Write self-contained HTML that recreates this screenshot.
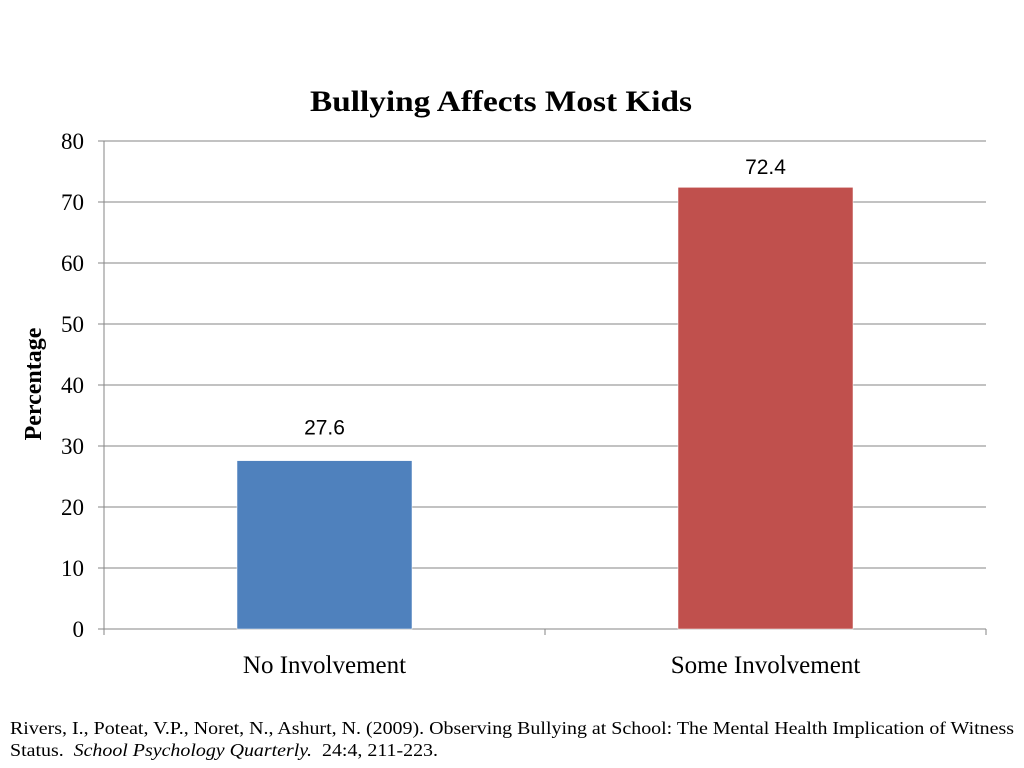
<!DOCTYPE html>
<html><head><meta charset="utf-8">
<style>
body{margin:0;width:1024px;height:768px;background:#fff;overflow:hidden;}
svg{display:block}
.serif{font-family:"Liberation Serif",serif;}
.sans{font-family:"Liberation Sans",sans-serif;}
</style></head>
<body>
<svg id="chart" width="1024" height="768">
<text class="serif" x="310" y="111" font-size="30" font-weight="bold" textLength="382" lengthAdjust="spacingAndGlyphs">Bullying Affects Most Kids</text>
<text class="serif" transform="translate(41,384) rotate(-90)" font-size="24" font-weight="bold" text-anchor="middle">Percentage</text>
<g id="grid"></g><g id="bars"></g>
<text class="serif" x="10" y="734" font-size="18" textLength="1004" lengthAdjust="spacingAndGlyphs">Rivers, I., Poteat, V.P., Noret, N., Ashurt, N. (2009). Observing Bullying at School: The Mental Health Implication of Witness</text>
<text class="serif" x="10" y="756" font-size="18" xml:space="preserve" textLength="428" lengthAdjust="spacingAndGlyphs">Status.  <tspan font-style="italic">School Psychology Quarterly.</tspan>  24:4, 211-223.</text>
</svg>
<script>
const categories=["No Involvement","Some Involvement"];
const values=[27.6,72.4];
const colors=["#4f81bd","#c0504d"];
const ticks=[0,10,20,30,40,50,60,70,80];
const NS="http://www.w3.org/2000/svg";
const L=104,R=986,T=141,B=629,ymax=80;
const y=v=>B-(v/ymax)*(B-T);
const band=(R-L)/categories.length;
function mk(tag,a,p){const e=document.createElementNS(NS,tag);for(const k in a)e.setAttribute(k,a[k]);p.appendChild(e);return e;}
const g=document.getElementById('grid'),b=document.getElementById('bars');
ticks.forEach(t=>{
 const ln=mk('line',{x1:L-6,x2:R,y1:y(t),y2:y(t),stroke:'#868686','stroke-width':1},g);
 
 
 const tx=mk('text',{x:84,y:y(t)+8,'font-size':23,'text-anchor':'end',class:'serif'},g);
 tx.textContent=t;
 
 
});
const ax=mk('line',{x1:L,x2:L,y1:T,y2:B,stroke:'#868686'},g);


for(let i=0;i<=categories.length;i++){
 const tk=mk('line',{x1:L+i*band,x2:L+i*band,y1:B,y2:B+6,stroke:'#868686'},g);
 
 
}
categories.forEach((c,i)=>{
 const cx=L+band*(i+0.5),w=175;
 const r=mk('rect',{x:cx-w/2,y:y(values[i]),width:w,height:B-y(values[i]),fill:colors[i],stroke:'#fff','stroke-width':0.5},b);
 
 
 const ly=Math.max(y(values[i])-26,T+33);
 const v=mk('text',{x:cx,y:ly,'font-size':21,'text-anchor':'middle',class:'sans'},b);
 v.textContent=values[i];
 
 
 const cl=mk('text',{x:cx,y:673,'font-size':25,'text-anchor':'middle',class:'serif'},b);
 cl.textContent=c;
 
 
});
</script>
</body></html>
